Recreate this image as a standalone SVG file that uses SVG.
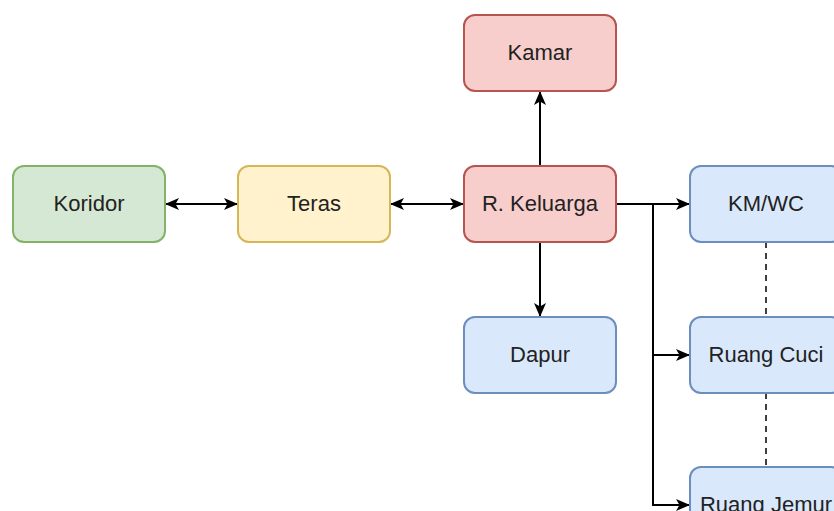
<svg xmlns="http://www.w3.org/2000/svg" width="834" height="511" viewBox="0 0 834 511">
  <style>
    .box { stroke-width: 2; }
    .green { fill: #d5e8d4; stroke: #82b366; }
    .yellow { fill: #fff2cc; stroke: #d6b656; }
    .red { fill: #f8cecc; stroke: #b85450; }
    .blue { fill: #dae8fc; stroke: #6c8ebf; }
    .label { font-family: "Liberation Sans", Arial, sans-serif; font-size: 22px; fill: #222; text-anchor: middle; }
    .edge { fill: none; stroke: #000; stroke-width: 2; }
    .dash { fill: none; stroke: #000; stroke-width: 1.5; stroke-dasharray: 6 5; }
  </style>
  <defs>
    <marker id="arrow" markerUnits="userSpaceOnUse" markerWidth="14" markerHeight="12" viewBox="0 0 14 12" refX="13" refY="6" orient="auto-start-reverse">
      <path d="M0,0 L14,6 L0,12 L3.5,6 Z" fill="#000"/>
    </marker>
  </defs>

  <g id="connectors">
    <line class="edge" x1="166" y1="204" x2="237" y2="204" marker-start="url(#arrow)" marker-end="url(#arrow)"/>
    <line class="edge" x1="391" y1="204" x2="463" y2="204" marker-start="url(#arrow)" marker-end="url(#arrow)"/>
    <line class="edge" x1="540" y1="166" x2="540" y2="92" marker-end="url(#arrow)"/>
    <line class="edge" x1="540" y1="242" x2="540" y2="316" marker-end="url(#arrow)"/>
    <line class="edge" x1="616" y1="204" x2="689" y2="204" marker-end="url(#arrow)"/>
    <polyline class="edge" points="653,204 653,355 689,355" marker-end="url(#arrow)"/>
    <polyline class="edge" points="653,355 653,505 689,505" marker-end="url(#arrow)"/>
    <line class="dash" x1="766" y1="242" x2="766" y2="317"/>
    <line class="dash" x1="766" y1="393" x2="766" y2="467"/>
  </g>

  <g id="koridor">
    <rect class="box green" x="13" y="166" width="152" height="76" rx="11"/>
    <text class="label" x="89" y="211">Koridor</text>
  </g>
  <g id="teras">
    <rect class="box yellow" x="238" y="166" width="152" height="76" rx="11"/>
    <text class="label" x="314" y="211">Teras</text>
  </g>
  <g id="r-keluarga">
    <rect class="box red" x="464" y="166" width="152" height="76" rx="11"/>
    <text class="label" x="540" y="211">R. Keluarga</text>
  </g>
  <g id="kamar">
    <rect class="box red" x="464" y="15" width="152" height="76" rx="11"/>
    <text class="label" x="540" y="60">Kamar</text>
  </g>
  <g id="dapur">
    <rect class="box blue" x="464" y="317" width="152" height="76" rx="11"/>
    <text class="label" x="540" y="362">Dapur</text>
  </g>
  <g id="km-wc">
    <rect class="box blue" x="690" y="166" width="152" height="76" rx="11"/>
    <text class="label" x="766" y="211">KM/WC</text>
  </g>
  <g id="ruang-cuci">
    <rect class="box blue" x="690" y="317" width="152" height="76" rx="11"/>
    <text class="label" x="766" y="362">Ruang Cuci</text>
  </g>
  <g id="ruang-jemur">
    <rect class="box blue" x="690" y="467" width="152" height="76" rx="11"/>
    <text class="label" x="766" y="512">Ruang Jemur</text>
  </g>
</svg>
